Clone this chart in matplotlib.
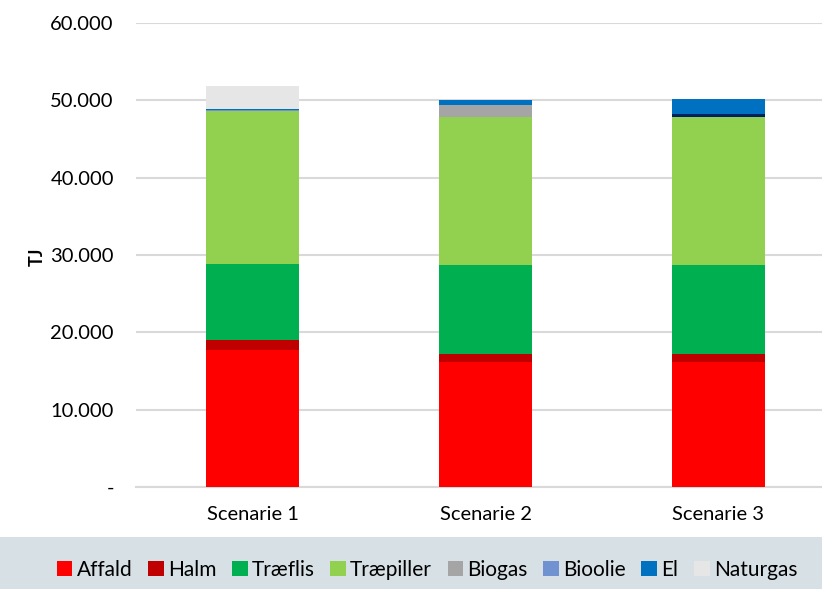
import matplotlib
matplotlib.use("Agg")
import matplotlib.pyplot as plt
from matplotlib.patches import Patch, Rectangle
from matplotlib.ticker import FuncFormatter
import numpy as np

# Energy input per scenario (TJ)
scenarios = ["Scenarie 1", "Scenarie 2", "Scenarie 3"]
affald = [17700, 16150, 16150]
halm = [1300, 1100, 1100]
traeflis = [9850, 11500, 11500]
traepiller = [19800, 19050, 19150]
biogas = [0, 1550, 0]
bioolie = [40, 0, 0]
olie = [0, 0, 350]
el = [200, 650, 1950]
naturgas = [3000, 0, 0]

series = [
    ("Affald", affald, "#FF0000", True),
    ("Halm", halm, "#C00000", True),
    ("Træflis", traeflis, "#00B050", True),
    ("Træpiller", traepiller, "#92D050", True),
    ("Biogas", biogas, "#A5A5A5", True),
    ("Bioolie", bioolie, "#7092D0", True),
    ("Olie", olie, "#002060", False),
    ("El", el, "#0070C0", True),
    ("Naturgas", naturgas, "#E7E6E6", True),
]

yticks = [0, 10000, 20000, 30000, 40000, 50000, 60000]

plt.rcParams["font.family"] = ["Lato", "DejaVu Sans"]

W, H = 822, 589
fig = plt.figure(figsize=(W / 100, H / 100), dpi=100)

# Legend band at the bottom
fig.patches.append(Rectangle((0, 0), 1, 52 / H, transform=fig.transFigure,
                             facecolor="#D6E0E5", edgecolor="none", zorder=0))

ax = fig.add_axes([136 / W, (H - 487) / H, (835 - 136) / W, (487 - 23) / H])
ax.set_facecolor("none")

x = np.arange(len(scenarios))
bottom = np.zeros(len(scenarios))
for name, vals, color, _ in series:
    v = np.array(vals, dtype=float)
    ax.bar(x, v, width=0.4, bottom=bottom, color=color, edgecolor="none", zorder=3)
    bottom += v

ax.set_xlim(-0.5, len(scenarios) - 0.5)
ax.set_ylim(0, 60000)
ax.set_yticks(yticks)
ax.yaxis.set_major_formatter(FuncFormatter(
    lambda v, p: "-" if v == 0 else f"{int(v):,}".replace(",", ".")))
ax.set_xticks(x)
ax.set_xticklabels(scenarios)

ax.grid(axis="y", color="#D9D9D9", linewidth=1.5, zorder=0)
ax.set_axisbelow(True)
for s in ["top", "right", "left"]:
    ax.spines[s].set_visible(False)
ax.spines["bottom"].set_color("#D9D9D9")
ax.spines["bottom"].set_linewidth(1.5)
ax.tick_params(axis="y", length=0, pad=16, labelsize=14.5, colors="#000000")
ax.tick_params(axis="x", length=0, pad=14, labelsize=14.5, colors="#000000")

fig.text(37 / W, (H - 257) / H, "TJ", rotation=90, fontsize=13, fontweight="bold",
         ha="center", va="center")

handles = [Patch(facecolor=c, edgecolor="none", label=n) for n, _, c, show in series if show]
fig.legend(handles=handles, loc="center", bbox_to_anchor=(427 / W, 19 / H), ncol=len(handles),
           frameon=False, fontsize=15, handlelength=0.75, handleheight=0.75,
           handletextpad=0.2, columnspacing=0.75, borderaxespad=0)

fig.savefig("out.png", dpi=100)
